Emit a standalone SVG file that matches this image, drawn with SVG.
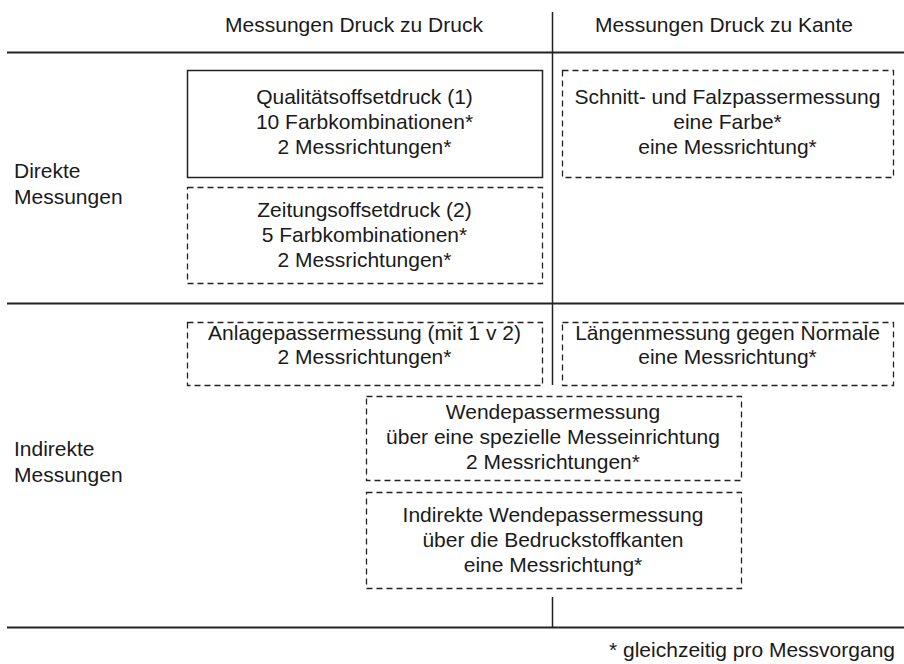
<svg xmlns="http://www.w3.org/2000/svg" width="904" height="664" viewBox="0 0 904 664">
  <style>
    text { font-family: "Liberation Sans", Arial, sans-serif; font-size: 21px; fill: #1a1a1a; }
    .c { text-anchor: middle; }
    .rule { stroke: #222; stroke-width: 2; fill: none; }
    .axis { stroke: #222; stroke-width: 1.5; fill: none; }
    .solid { stroke: #222; stroke-width: 1.5; fill: none; }
    .dash { stroke: #222; stroke-width: 1.3; fill: none; stroke-dasharray: 6 4; }
  </style>
  <rect width="904" height="664" fill="#fff"/>

  <!-- table grid -->
  <g id="grid">
    <line class="rule" x1="7" y1="52.5" x2="904" y2="52.5"/>
    <line class="rule" x1="7" y1="303.5" x2="904" y2="303.5"/>
    <line class="rule" x1="7" y1="627.5" x2="904" y2="627.5"/>
    <line class="axis" x1="552.5" y1="12" x2="552.5" y2="385"/>
    <line class="axis" x1="552.5" y1="597" x2="552.5" y2="627"/>
  </g>

  <!-- column and row headings -->
  <g id="headings">
    <text class="c" x="354" y="32">Messungen Druck zu Druck</text>
    <text class="c" x="724" y="32">Messungen Druck zu Kante</text>
    <text x="14" y="178">Direkte</text>
    <text x="14" y="204">Messungen</text>
    <text x="14" y="456">Indirekte</text>
    <text x="14" y="482">Messungen</text>
  </g>

  <g id="qualitaetsoffsetdruck">
    <rect class="solid" x="187.5" y="70.5" width="355" height="107"/>
    <text class="c" x="364.5" y="104">Qualitätsoffsetdruck (1)</text>
    <text class="c" x="364.5" y="129">10 Farbkombinationen*</text>
    <text class="c" x="364.5" y="154">2 Messrichtungen*</text>
  </g>

  <g id="zeitungsoffsetdruck">
    <rect class="dash" x="187.5" y="187.5" width="355" height="96"/>
    <text class="c" x="364.5" y="217">Zeitungsoffsetdruck (2)</text>
    <text class="c" x="364.5" y="242">5 Farbkombinationen*</text>
    <text class="c" x="364.5" y="267">2 Messrichtungen*</text>
  </g>

  <g id="schnitt-falzpasser">
    <rect class="dash" x="562.5" y="70.5" width="331" height="107"/>
    <text class="c" x="727.5" y="104">Schnitt- und Falzpassermessung</text>
    <text class="c" x="727.5" y="129">eine Farbe*</text>
    <text class="c" x="727.5" y="154">eine Messrichtung*</text>
  </g>

  <g id="anlagepasser">
    <rect class="dash" x="187.5" y="322.5" width="355" height="63"/>
    <text class="c" x="364.5" y="340">Anlagepassermessung (mit 1 v 2)</text>
    <text class="c" x="364.5" y="364">2 Messrichtungen*</text>
  </g>

  <g id="laengenmessung">
    <rect class="dash" x="562.5" y="322.5" width="331" height="63"/>
    <text class="c" x="727.5" y="340">Längenmessung gegen Normale</text>
    <text class="c" x="727.5" y="364">eine Messrichtung*</text>
  </g>

  <g id="wendepasser">
    <rect class="dash" x="366.5" y="396.5" width="375" height="84"/>
    <text class="c" x="553" y="419">Wendepassermessung</text>
    <text class="c" x="553" y="444">über eine spezielle Messeinrichtung</text>
    <text class="c" x="553" y="469">2 Messrichtungen*</text>
  </g>

  <g id="indirekte-wendepasser">
    <rect class="dash" x="366.5" y="492.5" width="375" height="96"/>
    <text class="c" x="553" y="522">Indirekte Wendepassermessung</text>
    <text class="c" x="553" y="547">über die Bedruckstoffkanten</text>
    <text class="c" x="553" y="572">eine Messrichtung*</text>
  </g>

  <g id="footnote">
    <text x="895" y="657" text-anchor="end">* gleichzeitig pro Messvorgang</text>
  </g>
</svg>
